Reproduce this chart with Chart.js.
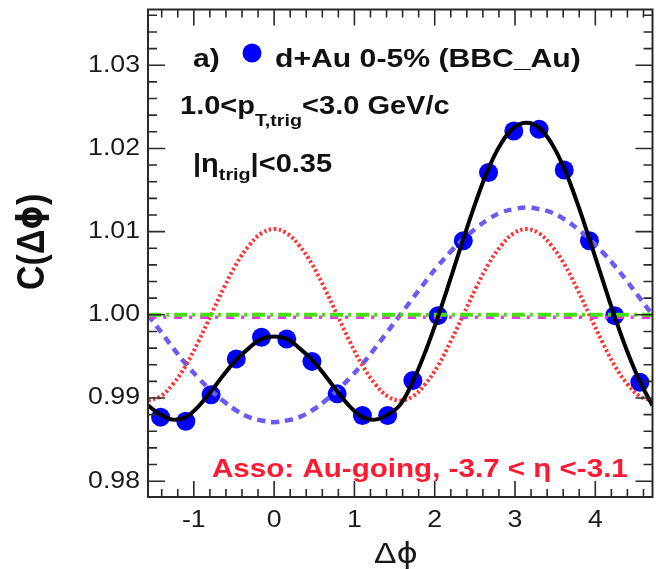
<!DOCTYPE html>
<html>
<head>
<meta charset="utf-8">
<script src="https://cdn.jsdelivr.net/npm/chart.js@4.4.0/dist/chart.umd.min.js"></script>
<style>
  html, body { margin: 0; padding: 0; background: #fff; overflow: hidden; }
  #wrap { width: 662px; height: 569px; }
</style>
</head>
<body>
<div id="wrap"><canvas id="chart-corr" width="662" height="569"></canvas></div>
<script>
'use strict';

// d+Au 0-5%, correlation function C(dphi), 20 bins
const phiBins = [-1.414, -1.100, -0.785, -0.471, -0.157, 0.157, 0.471, 0.785, 1.100, 1.414,
                 1.728, 2.042, 2.356, 2.670, 2.985, 3.299, 3.613, 3.927, 4.241, 4.555];
const corrValues = [0.9877, 0.9872, 0.9904, 0.9947, 0.9973, 0.9971, 0.9944, 0.9905, 0.9879, 0.9879,
                    0.9921, 0.9999, 1.0089, 1.0171, 1.0221, 1.0223, 1.0174, 1.0089, 0.9999, 0.9919];

// fit curves on a fine phi grid
const phiGrid = [-1.571, -1.414, -1.257, -1.100, -0.942, -0.785, -0.628, -0.471, -0.314, -0.157,
                 0.000, 0.157, 0.314, 0.471, 0.628, 0.785, 0.942, 1.100, 1.257, 1.414,
                 1.571, 1.728, 1.885, 2.042, 2.199, 2.356, 2.513, 2.670, 2.827, 2.985,
                 3.142, 3.299, 3.456, 3.613, 3.770, 3.927, 4.084, 4.241, 4.398, 4.555, 4.712];
const fitTotal = [0.9891, 0.9880, 0.9874, 0.9877, 0.9890, 0.9908, 0.9928, 0.9946, 0.9960, 0.9971,
                  0.9974, 0.9971, 0.9960, 0.9946, 0.9928, 0.9908, 0.9890, 0.9877, 0.9874, 0.9880,
                  0.9892, 0.9920, 0.9956, 0.9998, 1.0044, 1.0091, 1.0136, 1.0176, 1.0206, 1.0225,
                  1.0231, 1.0225, 1.0206, 1.0176, 1.0136, 1.0091, 1.0044, 0.9998, 0.9956, 0.9920, 0.9891];
const fitV1 = [1.0000, 0.9980, 0.9960, 0.9941, 0.9924, 0.9909, 0.9896, 0.9885, 0.9877, 0.9873,
               0.9871, 0.9873, 0.9877, 0.9885, 0.9896, 0.9909, 0.9924, 0.9941, 0.9960, 0.9980,
               1.0000, 1.0020, 1.0040, 1.0059, 1.0076, 1.0091, 1.0104, 1.0115, 1.0123, 1.0127,
               1.0129, 1.0127, 1.0123, 1.0115, 1.0104, 1.0091, 1.0076, 1.0059, 1.0040, 1.0020, 1.0000];
const fitV2 = [0.9897, 0.9902, 0.9917, 0.9939, 0.9968, 1.0000, 1.0032, 1.0061, 1.0083, 1.0098,
               1.0103, 1.0098, 1.0083, 1.0061, 1.0032, 1.0000, 0.9968, 0.9939, 0.9917, 0.9902,
               0.9897, 0.9902, 0.9917, 0.9939, 0.9968, 1.0000, 1.0032, 1.0061, 1.0083, 1.0098,
               1.0103, 1.0098, 1.0083, 1.0061, 1.0032, 1.0000, 0.9968, 0.9939, 0.9917, 0.9902, 0.9897];
const flatPhi = [-1.571, 4.712];
const fitV3 = [0.9997, 0.9997];
const pedestal = [1.0000, 1.0000];

const xTicks = [-1, 0, 1, 2, 3, 4];
const yTicks = [0.98, 0.99, 1.00, 1.01, 1.02, 1.03];

const SX = 1.16; // the figure is stretched sideways, text too
const SANS = "'Liberation Sans', Arial, Helvetica, sans-serif";
const PHI_FONT = "'DejaVu Sans', sans-serif";

const toPoints = (xs, ys) => xs.map((x, i) => ({ x: x, y: ys[i] }));

function drawRich(ctx, parts, x, y, color) {
    let cx = x;
    ctx.fillStyle = color;
    ctx.textAlign = 'left';
    ctx.textBaseline = 'alphabetic';
    parts.forEach(p => {
        ctx.font = p.font;
        ctx.save();
        ctx.translate(cx, y + (p.dy || 0));
        ctx.scale(SX, 1);
        ctx.fillText(p.text, 0, 0);
        ctx.restore();
        cx += ctx.measureText(p.text).width * SX;
    });
}

function drawStretched(ctx, text, x, y, align, baseline) {
    ctx.save();
    ctx.translate(x, y);
    ctx.scale(SX, 1);
    ctx.textAlign = align;
    ctx.textBaseline = baseline;
    ctx.fillText(text, 0, 0);
    ctx.restore();
}

function eachTick(min, max, step, major, fn) {
    for (let n = Math.ceil(min / step - 1e-9); n * step <= max + 1e-9; n++) {
        const v = n * step;
        const r = v / major;
        fn(v, Math.abs(r - Math.round(r)) < 1e-6);
    }
}

const rootFrame = {
    id: 'rootFrame',
    afterDraw(chart) {
        const { ctx, chartArea: a, scales } = chart;
        const xs = scales.x, ys = scales.y;
        ctx.save();

        // frame + inward ticks on all four sides
        ctx.strokeStyle = '#2a2a2a';
        ctx.lineWidth = 2;
        ctx.strokeRect(a.left, a.top, a.right - a.left, a.bottom - a.top);
        ctx.lineWidth = 1.6;
        ctx.beginPath();
        eachTick(ys.min, ys.max, 0.002, 0.01, (v, major) => {
            const py = ys.getPixelForValue(v);
            const len = major ? 17 : 9;
            ctx.moveTo(a.left, py); ctx.lineTo(a.left + len, py);
            ctx.moveTo(a.right, py); ctx.lineTo(a.right - len, py);
        });
        eachTick(xs.min, xs.max, 0.2, 1, (v, major) => {
            const px = xs.getPixelForValue(v);
            const len = major ? 16 : 8;
            ctx.moveTo(px, a.bottom); ctx.lineTo(px, a.bottom - len);
            ctx.moveTo(px, a.top); ctx.lineTo(px, a.top + len);
        });
        ctx.stroke();

        // tick labels
        ctx.fillStyle = '#1a1a1a';
        ctx.font = '23px ' + SANS;
        yTicks.forEach(v => drawStretched(ctx, v.toFixed(2), 140, ys.getPixelForValue(v), 'right', 'middle'));
        xTicks.forEach(v => drawStretched(ctx, String(v), xs.getPixelForValue(v), 521, 'center', 'middle'));

        // axis titles
        drawRich(ctx, [
            { text: 'Δ', font: '29px ' + SANS },
            { text: 'ϕ', font: '28px ' + PHI_FONT }
        ], 374, 563, '#1a1a1a');
        ctx.save();
        ctx.translate(33, 240);
        ctx.rotate(-Math.PI / 2);
        ctx.scale(1, SX);
        ctx.textAlign = 'left';
        ctx.textBaseline = 'middle';
        ctx.fillStyle = '#111';
        let cx = -50;
        [['C(Δ', 'bold 34px ' + SANS], ['ϕ', 'bold 31px ' + PHI_FONT], [')', 'bold 34px ' + SANS]].forEach(([t, f]) => {
            ctx.font = f;
            ctx.fillText(t, cx, 0);
            cx += ctx.measureText(t).width;
        });
        ctx.restore();

        // legend and labels
        const B = 'bold 26px ' + SANS;
        const Bm = 'bold 25px ' + SANS;
        const Bs = 'bold 17px ' + SANS;
        drawRich(ctx, [{ text: 'a)', font: B }], 193, 67, '#111');
        ctx.fillStyle = '#0000ff';
        ctx.beginPath();
        ctx.arc(252, 53, 9.5, 0, Math.PI * 2);
        ctx.fill();
        drawRich(ctx, [{ text: 'd+Au 0-5% (BBC_Au)', font: B }], 275, 67, '#111');
        drawRich(ctx, [
            { text: '1.0<p', font: Bm },
            { text: 'T,trig', font: Bs, dy: 12 },
            { text: '<3.0 GeV/c', font: Bm }
        ], 180, 114, '#111');
        drawRich(ctx, [
            { text: '|η', font: Bm },
            { text: 'trig', font: Bs, dy: 8 },
            { text: '|<0.35', font: Bm }
        ], 193, 172, '#111');
        drawRich(ctx, [{ text: 'Asso: Au-going, -3.7 < η <-3.1', font: 'bold 25.5px ' + SANS }], 212, 477, '#ff1a33');

        ctx.restore();
    }
};

const curve = (label, xs, ys, color, width, dash, order) => ({
    label: label,
    data: toPoints(xs, ys),
    showLine: true,
    borderColor: color,
    borderWidth: width,
    borderDash: dash,
    pointRadius: 0,
    tension: 0.4,
    fill: false,
    order: order
});

new Chart(document.getElementById('chart-corr').getContext('2d'), {
    type: 'scatter',
    data: {
        datasets: [
            {
                label: 'd+Au 0-5% (BBC_Au)',
                data: toPoints(phiBins, corrValues),
                backgroundColor: '#0000ff',
                borderWidth: 0,
                pointRadius: 9.5,
                order: 6
            },
            curve('v1', phiGrid, fitV1, '#6a5cf2', 4.5, [8, 6], 5),
            curve('v2', phiGrid, fitV2, '#ff3333', 4, [2.5, 2.5], 4),
            curve('v3', flatPhi, fitV3, '#ee33ee', 3.5, [8, 7, 3, 8], 3),
            curve('ped', flatPhi, pedestal, '#44e011', 4, [13, 5, 3, 5], 2),
            curve('total', phiGrid, fitTotal, '#000000', 4, [], 1)
        ]
    },
    options: {
        responsive: false,
        animation: false,
        events: [],
        layout: { padding: { left: 0, top: 6, right: 1, bottom: 0 } },
        plugins: { legend: { display: false }, tooltip: { enabled: false } },
        scales: {
            x: {
                type: 'linear',
                min: -Math.PI / 2,
                max: 3 * Math.PI / 2,
                grid: { display: false },
                border: { display: false },
                ticks: { display: false },
                afterFit(s) { s.height = 72; }
            },
            y: {
                type: 'linear',
                min: 0.9781,
                max: 1.0367,
                grid: { display: false },
                border: { display: false },
                ticks: { display: false },
                afterFit(s) { s.width = 148; }
            }
        }
    },
    plugins: [rootFrame]
});
</script>
</body>
</html>
